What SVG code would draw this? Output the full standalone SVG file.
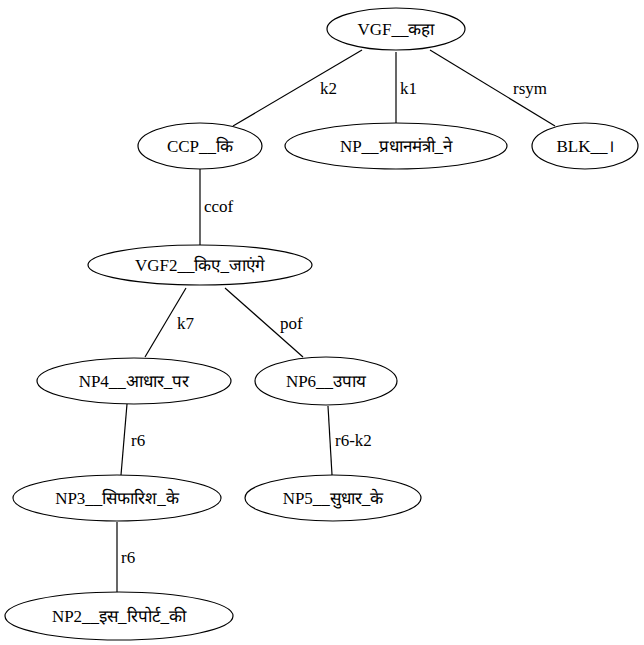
<svg xmlns="http://www.w3.org/2000/svg" width="644" height="645" viewBox="0 0 644 645">
<style>
ellipse{fill:#fff;stroke:#000;stroke-width:1.2}
line{stroke:#000;stroke-width:1.2}
text{font-family:'Liberation Serif','Times New Roman',serif;font-size:17px;fill:#000}
.n{text-anchor:middle}
</style>
<rect width="644" height="645" fill="#fff"/>
<g id="edges">
<line x1="362" y1="50" x2="233" y2="126"/>
<text x="320" y="94">k2</text>
<line x1="396" y1="52" x2="396" y2="123"/>
<text x="400" y="94">k1</text>
<line x1="430" y1="50" x2="555" y2="126"/>
<text x="513" y="94">rsym</text>
<line x1="200" y1="169" x2="200" y2="245"/>
<text x="204" y="212">ccof</text>
<line x1="186" y1="288" x2="145" y2="357"/>
<text x="177" y="329">k7</text>
<line x1="225" y1="288" x2="303" y2="357"/>
<text x="280" y="329">pof</text>
<line x1="127" y1="404" x2="121" y2="475"/>
<text x="131" y="446">r6</text>
<line x1="328" y1="406" x2="332" y2="475"/>
<text x="335" y="446">r6-k2</text>
<line x1="117" y1="522" x2="117" y2="592"/>
<text x="121" y="563">r6</text>
</g>
<g id="n_vgf"><ellipse cx="396" cy="29" rx="69" ry="21"/><text class="n" x="396" y="35">VGF__कहा</text></g>
<g id="n_ccp"><ellipse cx="200" cy="146" rx="62" ry="23"/><text class="n" x="200" y="152">CCP__कि</text></g>
<g id="n_np"><ellipse cx="396" cy="146" rx="111" ry="23"/><text class="n" x="396" y="152">NP__प्रधानमंत्री_ने</text></g>
<g id="n_blk"><ellipse cx="585" cy="146" rx="53" ry="23"/><text class="n" x="585" y="152">BLK__।</text></g>
<g id="n_vgf2"><ellipse cx="200" cy="265" rx="112" ry="20"/><text class="n" x="200" y="271">VGF2__किए_जाएंगे</text></g>
<g id="n_np4"><ellipse cx="134" cy="381" rx="97" ry="23"/><text class="n" x="134" y="387">NP4__आधार_पर</text></g>
<g id="n_np6"><ellipse cx="326" cy="381" rx="71" ry="24"/><text class="n" x="326" y="387">NP6__उपाय</text></g>
<g id="n_np3"><ellipse cx="117" cy="498" rx="104" ry="23"/><text class="n" x="117" y="504">NP3__सिफारिश_के</text></g>
<g id="n_np5"><ellipse cx="333" cy="498" rx="88" ry="23"/><text class="n" x="333" y="504">NP5__सुधार_के</text></g>
<g id="n_np2"><ellipse cx="119" cy="616" rx="114" ry="24"/><text class="n" x="119" y="622">NP2__इस_रिपोर्ट_की</text></g>
</svg>
